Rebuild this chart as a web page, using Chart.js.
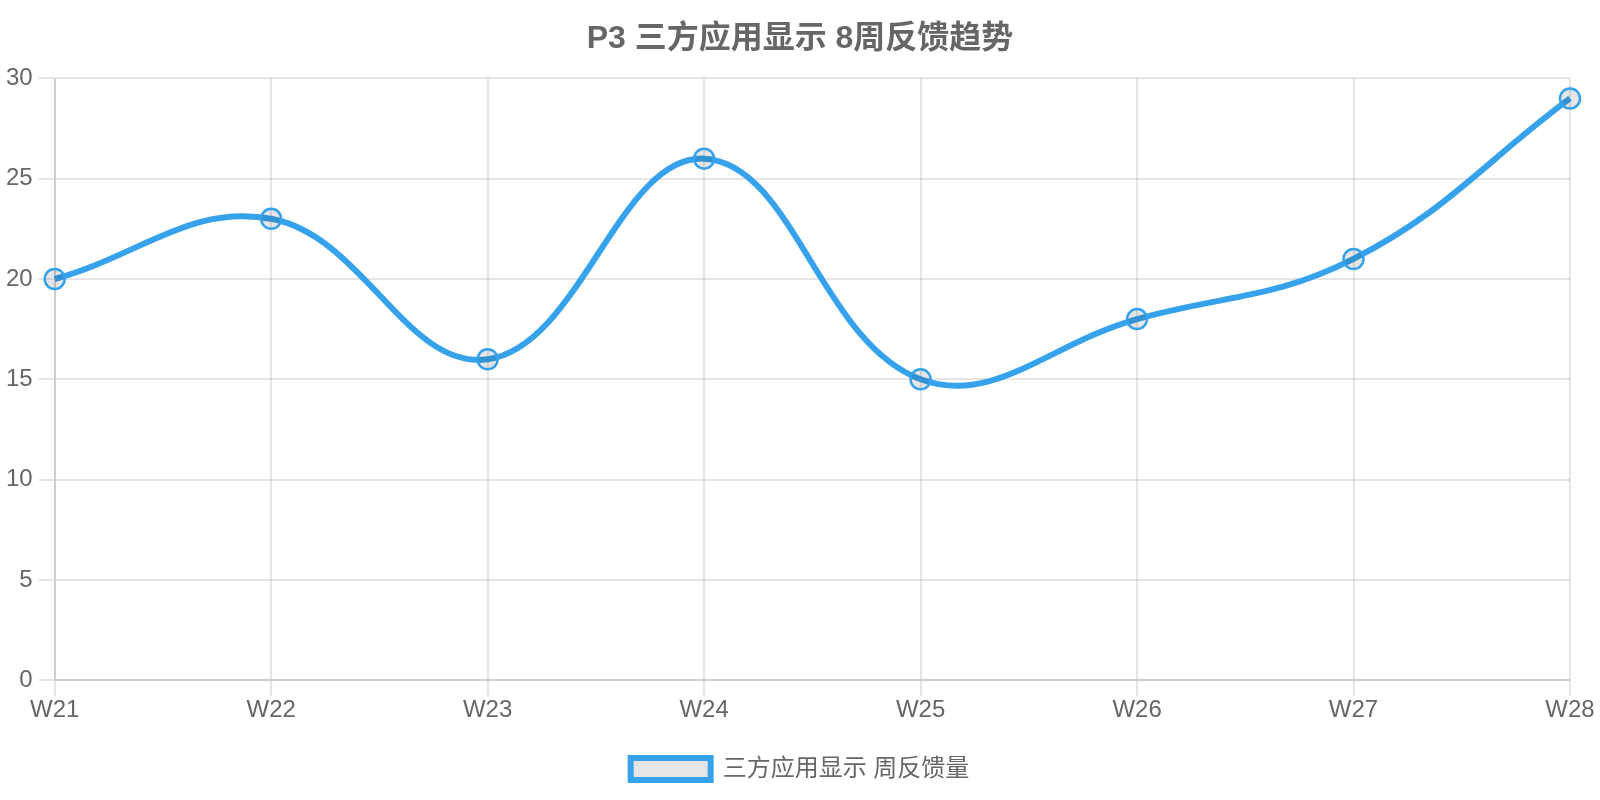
<!DOCTYPE html>
<html>
<head>
<meta charset="utf-8">
<script src="https://cdn.jsdelivr.net/npm/chart.js@4/dist/chart.umd.min.js"></script>
<style>
  html, body { margin: 0; padding: 0; background: #fff; }
  #wrap { width: 1600px; height: 800px; position: relative; }
</style>
</head>
<body>
<div id="wrap"><canvas id="chart"></canvas></div>
<script>
// 周次
const weeks = ['W21', 'W22', 'W23', 'W24', 'W25', 'W26', 'W27', 'W28'];
// 周反馈量
const feedback = [20, 23, 16, 26, 15, 18, 21, 29];
const yTicks = [0, 5, 10, 15, 20, 25, 30];

const FONT = "'Liberation Sans', Arial, 'Noto Sans CJK SC', sans-serif";
const GREY = '#666';

const ctx = document.getElementById('chart').getContext('2d');
new Chart(ctx, {
  type: 'line',
  data: {
    labels: weeks,
    datasets: [{
      label: '三方应用显示 周反馈量',
      data: feedback,
      borderColor: '#36A2EB',
      backgroundColor: 'rgba(0,0,0,0.1)',
      borderWidth: 6,
      tension: 0.4,
      fill: false,
      pointRadius: 10,
      pointBorderWidth: 2.5,
      pointBackgroundColor: 'rgba(0,0,0,0.1)',
      pointBorderColor: '#36A2EB'
    }]
  },
  options: {
    responsive: true,
    maintainAspectRatio: false,
    animation: false,
    layout: { padding: { left: 0, right: 0, top: 0, bottom: 9 } },
    plugins: {
      title: {
        display: true,
        text: 'P3 三方应用显示 8周反馈趋势',
        color: GREY,
        font: { family: FONT, size: 32, weight: 'bold' },
        padding: { top: 20, bottom: 20 }
      },
      legend: {
        position: 'bottom',
        labels: {
          color: GREY,
          font: { family: FONT, size: 24 },
          boxWidth: 80,
          boxHeight: 22,
          padding: 32
        }
      },
      tooltip: { enabled: false }
    },
    scales: {
      x: {
        // 右侧留白（最后一个标签外再多留一点）
        afterFit: (scale) => { scale.paddingRight = 30; },
        grid: { color: 'rgba(0,0,0,0.1)', lineWidth: 2, tickLength: 16 },
        border: { color: 'rgba(0,0,0,0.1)', width: 2 },
        ticks: { color: GREY, font: { family: FONT, size: 24 }, padding: 0, maxRotation: 0 }
      },
      y: {
        min: 0,
        max: 30,
        afterBuildTicks: (axis) => { axis.ticks = yTicks.map(v => ({ value: v })); },
        grid: { color: 'rgba(0,0,0,0.1)', lineWidth: 2, tickLength: 16 },
        border: { color: 'rgba(0,0,0,0.1)', width: 2 },
        ticks: { color: GREY, font: { family: FONT, size: 24 }, padding: 6 }
      }
    }
  }
});
</script>
</body>
</html>
